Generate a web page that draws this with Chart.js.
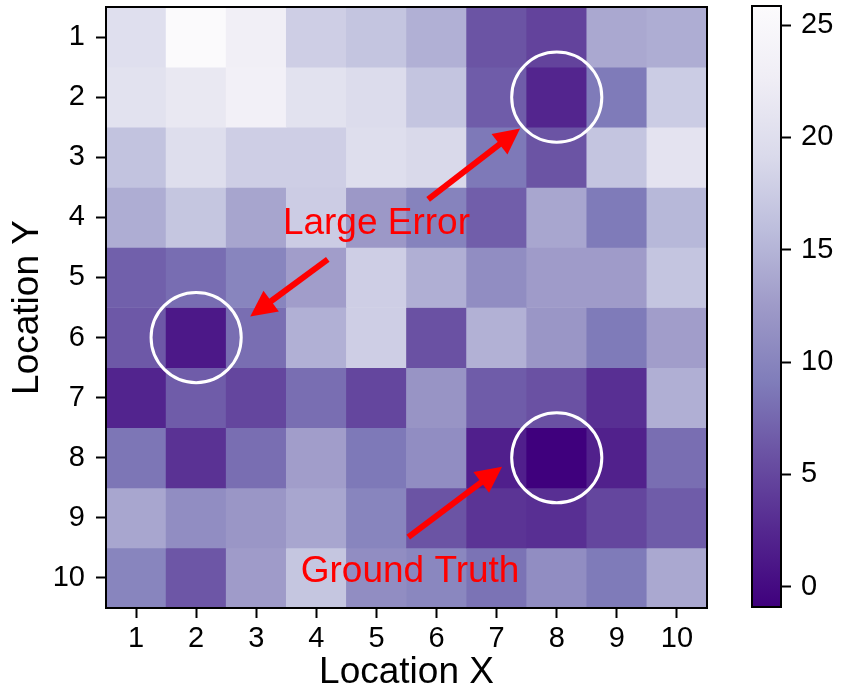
<!DOCTYPE html>
<html>
<head>
<meta charset="utf-8">
<script src="https://cdn.jsdelivr.net/npm/chart.js@4/dist/chart.umd.min.js"></script>
<style>
  body { margin: 0; background: #fff; }
  #wrap { position: relative; width: 853px; height: 691px; }
  #heat { position: absolute; left: 0; top: 0; }
  #bar { position: absolute; left: 730px; top: 0; }
</style>
</head>
<body>
<div id="wrap">
  <canvas id="heat" width="730" height="691"></canvas>
  <canvas id="bar" width="123" height="691"></canvas>
</div>
<script>
// location labels
const xLabels = ['1', '2', '3', '4', '5', '6', '7', '8', '9', '10']
const yLabels = [1, 2, 3, 4, 5, 6, 7, 8, 9, 10]

// error per cell, one row per Location Y
const row1 = [20.0, 25.5, 23.0, 17.8, 16.7, 14.6, 6.0, 4.7, 13.8, 14.3]
const row2 = [20.5, 21.6, 23.2, 20.5, 19.5, 16.7, 6.6, 2.3, 9.0, 17.5]
const row3 = [16.5, 19.8, 17.8, 17.8, 19.8, 19.0, 8.8, 6.0, 16.7, 20.8]
const row4 = [14.3, 16.8, 13.5, 17.6, 12.2, 9.8, 6.8, 13.6, 9.0, 15.3]
const row5 = [6.9, 7.9, 10.0, 12.8, 17.8, 14.5, 11.0, 12.6, 12.6, 16.7]
const row6 = [6.3, 1.2, 8.0, 14.6, 17.8, 5.8, 14.7, 12.0, 9.0, 12.8]
const row7 = [2.2, 6.6, 4.9, 8.0, 4.9, 11.8, 6.6, 5.8, 3.1, 14.5]
const row8 = [8.6, 3.3, 8.0, 12.8, 8.8, 11.0, 1.8, -0.9, 1.9, 8.0]
const row9 = [13.6, 11.0, 12.0, 13.6, 10.0, 6.0, 3.5, 3.1, 4.9, 6.6]
const row10 = [10.0, 6.2, 12.6, 16.8, 11.0, 10.3, 8.4, 11.0, 9.0, 13.8]
const rows = [row1, row2, row3, row4, row5, row6, row7, row8, row9, row10]

// colour bar
const colorMin = -0.9
const colorMax = 25.85
const colorTicks = [0, 5, 10, 15, 20, 25]

// annotations (in location units)
const circles = [[8, 2], [2, 6], [8, 8]]
const arrows = [[5.86, 3.7, 7.39, 2.52], [4.19, 4.7, 2.9, 5.65], [5.53, 9.32, 7.09, 8.15]]
const notes = [['Large Error', 5.0, 4.28], ['Ground Truth', 5.56, 10.07]]

// matplotlib "Purples"
const purples = [[252, 251, 253], [239, 237, 245], [218, 218, 235], [188, 189, 220],
  [158, 154, 200], [128, 125, 186], [106, 81, 163], [84, 39, 143], [63, 0, 125]]

function purple(s) {
  s = Math.min(1, Math.max(0, s)) * (purples.length - 1)
  const i = Math.min(purples.length - 2, Math.floor(s))
  const f = s - i
  const c = purples[i].map((a, k) => Math.round(a + (purples[i + 1][k] - a) * f))
  return `rgb(${c[0]},${c[1]},${c[2]})`
}
// low error = dark
const colorFor = v => purple(1 - (v - colorMin) / (colorMax - colorMin))

const FONT = '"Liberation Sans", Arial, sans-serif'
const tickFont = { family: FONT, size: 29 }
const titleFont = { family: FONT, size: 37, lineHeight: 1 }

// no extra room for half labels, the plot box is placed by hand
const noPad = s => { s.paddingTop = 0; s.paddingBottom = 0; s.paddingLeft = 0; s.paddingRight = 0 }

const datasets = rows.map((row, r) => ({
  data: row.map(() => [yLabels[r] - 0.5, yLabels[r] + 0.5]),
  backgroundColor: row.map(colorFor),
  borderWidth: 0,
  grouped: false,
  barPercentage: 1,
  categoryPercentage: 1
}))

const decor = {
  id: 'decor',
  afterDatasetsDraw(chart) {
    const { ctx, chartArea: a, scales: { x, y } } = chart
    const px = v => x.getPixelForValue(v - 1)
    const py = v => y.getPixelForValue(v)
    ctx.save()
    ctx.strokeStyle = '#000'
    ctx.lineWidth = 2
    ctx.strokeRect(a.left, a.top, a.width, a.height)

    ctx.strokeStyle = '#fff'
    ctx.lineWidth = 3
    const r = (px(2) - px(1)) * 0.75
    circles.forEach(([cx, cy]) => {
      ctx.beginPath()
      ctx.arc(px(cx), py(cy), r, 0, Math.PI * 2)
      ctx.stroke()
    })

    ctx.strokeStyle = '#ff0000'
    ctx.fillStyle = '#ff0000'
    arrows.forEach(([x0, y0, x1, y1]) => {
      const ax = px(x0), ay = py(y0), bx = px(x1), by = py(y1)
      const ang = Math.atan2(by - ay, bx - ax)
      const len = 26, hw = 13
      const cx = bx - len * Math.cos(ang), cy = by - len * Math.sin(ang)
      ctx.lineWidth = 6
      ctx.beginPath()
      ctx.moveTo(ax, ay)
      ctx.lineTo(cx + 2 * Math.cos(ang), cy + 2 * Math.sin(ang))
      ctx.stroke()
      ctx.beginPath()
      ctx.moveTo(bx, by)
      ctx.lineTo(cx - hw * Math.sin(ang), cy + hw * Math.cos(ang))
      ctx.lineTo(cx + hw * Math.sin(ang), cy - hw * Math.cos(ang))
      ctx.closePath()
      ctx.fill()
    })

    ctx.font = '37px ' + FONT
    ctx.textAlign = 'center'
    ctx.textBaseline = 'alphabetic'
    notes.forEach(([t, nx, ny]) => ctx.fillText(t, px(nx), py(ny)))
    ctx.restore()
  }
}

new Chart(document.getElementById('heat'), {
  type: 'bar',
  data: { labels: xLabels, datasets },
  options: {
    responsive: false,
    animation: false,
    layout: { padding: { top: 7, right: 23, left: 0, bottom: 0 } },
    plugins: { legend: { display: false }, tooltip: { enabled: false } },
    scales: {
      x: {
        afterFit: s => { s.height = 83; noPad(s) },
        ticks: { font: tickFont, color: '#000', padding: 4, maxRotation: 0 },
        grid: { offset: false, drawOnChartArea: false, tickLength: 10, tickWidth: 2, tickColor: '#000' },
        border: { display: false },
        title: { display: true, text: 'Location X', font: titleFont, color: '#000', padding: { top: 0, bottom: 0 } }
      },
      y: {
        min: 0.5,
        max: 10.5,
        reverse: true,
        afterFit: s => { s.width = 106; noPad(s) },
        afterBuildTicks: s => { s.ticks = yLabels.map(v => ({ value: v })) },
        ticks: { font: tickFont, color: '#000', padding: 11 },
        grid: { drawOnChartArea: false, tickLength: 10, tickWidth: 2, tickColor: '#000' },
        border: { display: false },
        title: { display: true, text: 'Location Y', font: titleFont, color: '#000', padding: { top: 9, bottom: 0 } }
      }
    }
  },
  plugins: [decor]
})

function barGradient(chart) {
  const a = chart.chartArea
  if (!a) return '#9e9ac8'
  // white at the top, dark at the bottom
  const g = chart.ctx.createLinearGradient(0, a.top, 0, a.bottom)
  purples.forEach((c, i) => {
    g.addColorStop(i / (purples.length - 1), `rgb(${c[0]},${c[1]},${c[2]})`)
  })
  return g
}

const outline = {
  id: 'outline',
  afterDatasetsDraw(chart) {
    const { ctx, chartArea: a } = chart
    ctx.save()
    ctx.strokeStyle = '#000'
    ctx.lineWidth = 2
    ctx.strokeRect(a.left, a.top, a.width, a.height)
    ctx.restore()
  }
}

new Chart(document.getElementById('bar'), {
  type: 'bar',
  data: {
    labels: [''],
    datasets: [{
      data: [[colorMin, colorMax]],
      backgroundColor: ctx => barGradient(ctx.chart),
      borderWidth: 0,
      barPercentage: 1,
      categoryPercentage: 1
    }]
  },
  options: {
    responsive: false,
    animation: false,
    layout: { padding: { left: 22, top: 6, bottom: 84, right: 0 } },
    plugins: { legend: { display: false }, tooltip: { enabled: false } },
    scales: {
      x: { display: false },
      y: {
        position: 'right',
        min: colorMin,
        max: colorMax,
        afterFit: s => { s.width = 72; noPad(s) },
        afterBuildTicks: s => { s.ticks = colorTicks.map(v => ({ value: v })) },
        ticks: { font: tickFont, color: '#000', padding: 10 },
        grid: { drawOnChartArea: false, tickLength: 10, tickWidth: 2, tickColor: '#000' },
        border: { display: false }
      }
    }
  },
  plugins: [outline]
})
</script>
</body>
</html>
